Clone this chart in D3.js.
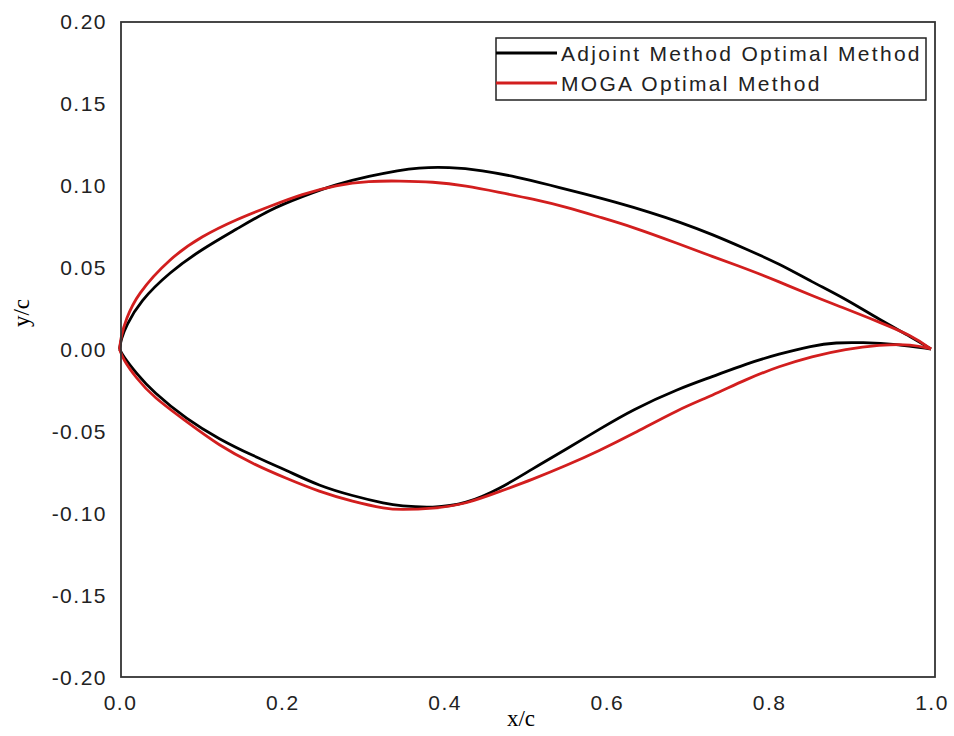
<!DOCTYPE html>
<html>
<head>
<meta charset="utf-8">
<script src="https://cdn.jsdelivr.net/npm/d3@7"></script>
<style>
  body { margin: 0; background: #fff; }
  .tick-label { font-family: "Liberation Sans", Arial, sans-serif; font-size: 21px; fill: #222; letter-spacing: 1.5px; }
  .legend-text { font-family: "Liberation Sans", Arial, sans-serif; font-size: 21px; fill: #222; letter-spacing: 2.3px; }
  .axis-title { font-family: "Liberation Serif", "Times New Roman", serif; font-size: 23px; fill: #000; }
</style>
</head>
<body>
<div id="container"></div>
<script>
/* CONSTANTS AND GLOBALS */
const width = 954;
const height = 736;

const xTicks = [0.0, 0.2, 0.4, 0.6, 0.8, 1.0];
const yTicks = [0.20, 0.15, 0.10, 0.05, 0.00, -0.05, -0.10, -0.15, -0.20];

const seriesNames = ["Adjoint Method Optimal Method", "MOGA Optimal Method"];

// Adjoint method - upper surface
const adjUpperX = [0, 0.002, 0.008, 0.025, 0.062, 0.102, 0.144, 0.185, 0.225, 0.267, 0.308, 0.345, 0.366, 0.406, 0.447, 0.489, 0.530, 0.570, 0.612, 0.653, 0.690, 0.730, 0.772, 0.813, 0.853, 0.895, 0.936, 0.977, 1.0];
const adjUpperY = [0, 0.006, 0.014, 0.029, 0.047, 0.061, 0.073, 0.085, 0.093, 0.1005, 0.1055, 0.109, 0.1105, 0.111, 0.109, 0.105, 0.1, 0.095, 0.0895, 0.0835, 0.0775, 0.070, 0.061, 0.052, 0.041, 0.0305, 0.018, 0.007, 0];
// Adjoint method - lower surface
const adjLowerX = [0, 0.004, 0.021, 0.041, 0.083, 0.123, 0.164, 0.206, 0.246, 0.287, 0.329, 0.345, 0.386, 0.427, 0.468, 0.509, 0.551, 0.591, 0.632, 0.690, 0.730, 0.772, 0.813, 0.853, 0.883, 0.915, 0.957, 1.0];
const adjLowerY = [0, -0.004, -0.015, -0.026, -0.043, -0.055, -0.065, -0.074, -0.0835, -0.0895, -0.0945, -0.0957, -0.097, -0.0945, -0.0855, -0.073, -0.061, -0.049, -0.037, -0.024, -0.017, -0.009, -0.003, 0.002, 0.004, 0.004, 0.003, 0];

// MOGA - upper surface
const mogaUpperX = [0, 0.002, 0.008, 0.021, 0.062, 0.102, 0.144, 0.185, 0.225, 0.267, 0.308, 0.345, 0.386, 0.427, 0.468, 0.509, 0.551, 0.591, 0.632, 0.690, 0.730, 0.772, 0.813, 0.853, 0.895, 0.936, 0.977, 1.0];
const mogaUpperY = [0, 0.008, 0.018, 0.033, 0.0555, 0.069, 0.079, 0.087, 0.0945, 0.1, 0.1025, 0.1025, 0.102, 0.0995, 0.0955, 0.0915, 0.0865, 0.0805, 0.0745, 0.064, 0.0565, 0.049, 0.041, 0.0325, 0.0245, 0.0165, 0.008, 0];
// MOGA - lower surface
const mogaLowerX = [0, 0.004, 0.021, 0.041, 0.083, 0.123, 0.164, 0.206, 0.246, 0.287, 0.329, 0.345, 0.386, 0.427, 0.468, 0.509, 0.551, 0.591, 0.632, 0.690, 0.730, 0.772, 0.813, 0.853, 0.895, 0.936, 0.977, 1.0];
const mogaLowerY = [0, -0.006, -0.018, -0.029, -0.0445, -0.059, -0.070, -0.079, -0.087, -0.093, -0.0975, -0.098, -0.0975, -0.0945, -0.087, -0.0795, -0.071, -0.062, -0.052, -0.0365, -0.0285, -0.0185, -0.0105, -0.0045, 0, 0.0025, 0.003, 0];

const colors = ["#000000", "#d21e1e"];

const zip = (xs, ys) => xs.map((x, i) => ({ x: x, y: ys[i] }));

const curves = [
  { s: 0, pts: zip(adjUpperX, adjUpperY) },
  { s: 0, pts: zip(adjLowerX, adjLowerY) },
  { s: 1, pts: zip(mogaUpperX, mogaUpperY) },
  { s: 1, pts: zip(mogaLowerX, mogaLowerY) }
];

/* SCALES */
const xScale = d3.scaleLinear().domain([0, 1]).range([119.5, 931]);
const yScale = d3.scaleLinear().domain([-0.2, 0.2]).range([677, 21]);

const svg = d3.select("#container")
  .append("svg")
  .attr("width", width)
  .attr("height", height);

// curves
const line = d3.line()
  .x(d => xScale(d.x))
  .y(d => yScale(d.y))
  .curve(d3.curveBasis);

svg.selectAll(".airfoil")
  .data(curves)
  .join("path")
  .attr("class", "airfoil")
  .attr("fill", "none")
  .attr("stroke", d => colors[d.s])
  .attr("stroke-width", 2.8)
  .attr("stroke-linejoin", "round")
  .attr("d", d => line(d.pts));

// frame
svg.append("rect")
  .attr("x", 121)
  .attr("y", 22)
  .attr("width", 935 - 121)
  .attr("height", 677 - 22)
  .attr("fill", "none")
  .attr("stroke", "#333")
  .attr("stroke-width", 1.8);

// tick labels
svg.selectAll(".xlab")
  .data(xTicks)
  .join("text")
  .attr("class", "tick-label")
  .attr("x", d => xScale(d) + 1)
  .attr("y", 710)
  .attr("text-anchor", "middle")
  .text(d => d3.format(".1f")(d));

svg.selectAll(".ylab")
  .data(yTicks)
  .join("text")
  .attr("class", "tick-label")
  .attr("x", 107)
  .attr("y", d => yScale(d))
  .attr("dy", "0.36em")
  .attr("text-anchor", "end")
  .text(d => d3.format(".2f")(d).replace("\u2212", "-"));

// axis titles
svg.append("text")
  .attr("class", "axis-title")
  .attr("x", 521)
  .attr("y", 726)
  .attr("text-anchor", "middle")
  .text("x/c");

svg.append("text")
  .attr("class", "axis-title")
  .attr("transform", "translate(29, 313) rotate(-90)")
  .attr("text-anchor", "middle")
  .text("y/c");

// legend
const legend = svg.append("g");
legend.append("rect")
  .attr("x", 496)
  .attr("y", 38)
  .attr("width", 430)
  .attr("height", 62)
  .attr("fill", "#fff")
  .attr("stroke", "#222")
  .attr("stroke-width", 1.5);

const rows = legend.selectAll(".row")
  .data(seriesNames)
  .join("g")
  .attr("transform", (d, i) => `translate(496, ${53 + i * 30})`);

rows.append("line")
  .attr("x1", 0)
  .attr("x2", 61)
  .attr("stroke", (d, i) => colors[i])
  .attr("stroke-width", 2.8);

rows.append("text")
  .attr("class", "legend-text")
  .attr("x", 65)
  .attr("dy", "0.36em")
  .text(d => d);
</script>
</body>
</html>
